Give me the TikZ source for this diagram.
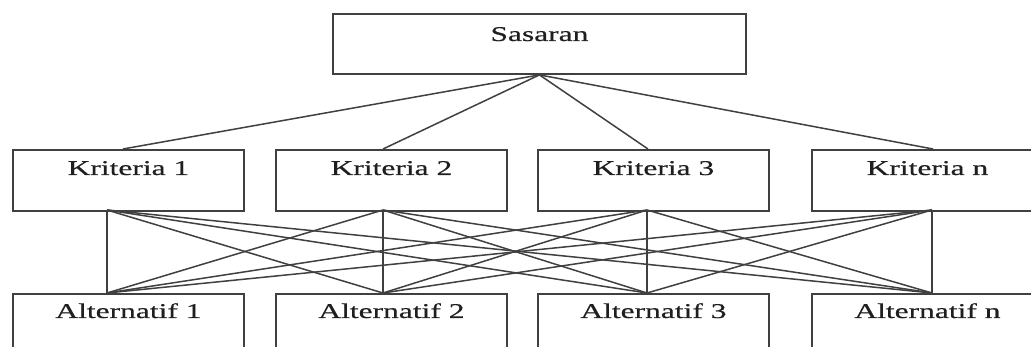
\documentclass[tikz,border=0pt]{standalone}
\usepackage{fontspec}
\newfontfamily\boxfont[FakeStretch=1.5,FakeBold=0.6]{Liberation Serif}
\usetikzlibrary{calc}
\begin{document}
\begin{tikzpicture}[x=1pt,y=-1pt,
  box/.style={draw=black!75, line width=1.9pt, minimum width=231pt,
    minimum height=61pt, inner sep=0pt, anchor=north west},
  lbl/.style={font=\boxfont\fontsize{21}{21}\selectfont, anchor=base,
    inner sep=0pt, text=black!88},
  link/.style={draw=black!75, line width=1.5pt}]
\useasboundingbox (0,0) rectangle (1031,347);

% goal
\node[box, minimum width=413pt, minimum height=60pt] (goal) at (332,13) {};
\node[lbl] (goalt) at ($(goal.north)+(0,28)$) {Sasaran};

% criteria row
\node[box] (k1) at (12,149) {};
\node[box] (k2) at (275,149) {};
\node[box] (k3) at (537,149) {};
\node[box] (kn) at (811,149) {};
\node[lbl] (k1t) at ($(k1.north)+(0,26)$) {Kriteria 1};
\node[lbl] (k2t) at ($(k2.north)+(0,26)$) {Kriteria 2};
\node[lbl] (k3t) at ($(k3.north)+(0,26)$) {Kriteria 3};
\node[lbl] (knt) at ($(kn.north)+(0,26)$) {Kriteria n};

% alternatives row (runs past the lower edge)
\node[box, minimum height=80pt] (a1) at (12,293) {};
\node[box, minimum height=80pt] (a2) at (275,293) {};
\node[box, minimum height=80pt] (a3) at (537,293) {};
\node[box, minimum height=80pt] (an) at (811,293) {};
\node[lbl] (a1t) at ($(a1.north)+(0,25)$) {Alternatif 1};
\node[lbl] (a2t) at ($(a2.north)+(0,25)$) {Alternatif 2};
\node[lbl] (a3t) at ($(a3.north)+(0,25)$) {Alternatif 3};
\node[lbl] (ant) at ($(an.north)+(0,25)$) {Alternatif n};

% attachment points on the box edges
\coordinate (k1in) at (123,149);
\coordinate (k2in) at (383,149);
\coordinate (k3in) at (648,149);
\coordinate (knin) at (933,149);
\coordinate (k1out) at (107,210);
\coordinate (k2out) at (383,210);
\coordinate (k3out) at (647,210);
\coordinate (knout) at (932,210);
\coordinate (a1in) at (107,293);
\coordinate (a2in) at (383,293);
\coordinate (a3in) at (647,293);
\coordinate (anin) at (932,293);

% goal to every criterion
\foreach \k in {k1,k2,k3,kn}
  \draw[link] (goal.south) -- (\k in);

% every criterion to every alternative
\foreach \k in {k1,k2,k3,kn}
  \foreach \a in {a1,a2,a3,an}
    \draw[link] (\k out) -- (\a in);
\end{tikzpicture}
\end{document}
